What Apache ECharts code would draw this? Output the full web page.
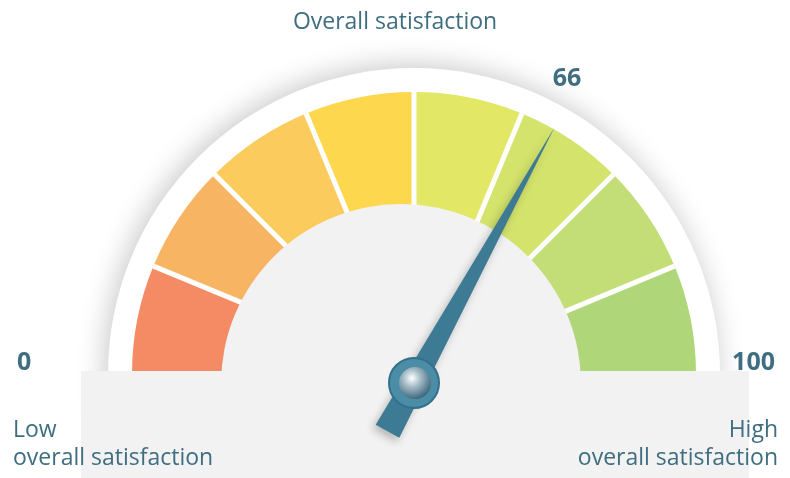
<!DOCTYPE html>
<html>
<head>
<meta charset="utf-8">
<script src="https://cdn.jsdelivr.net/npm/echarts@6/dist/echarts.min.js"></script>
<style>
  html, body { margin: 0; padding: 0; background: #ffffff; }
  #gauge { width: 790px; height: 478px; }
</style>
</head>
<body>
<div id="gauge"></div>
<script>
  // band colours, low -> high
  var bandColors = ['#F58B65', '#F7B463', '#FBCB5D', '#FDD84F', '#E3E766', '#D4E36C', '#C3DE76', '#B0D67A'];
  var scaleMin = 0;
  var scaleMax = 100;
  var score = 66;
  var tickLabels = ['0', '100'];
  var endLabels = ['Low\noverall satisfaction', 'High\noverall satisfaction'];
  var chartTitle = 'Overall satisfaction';

  var txt = '#3F6E80';
  var font = 'Open Sans';

  // axisLine colour stops built from the band list
  var stops = bandColors.map(function (c, i) {
    return [(i + 1) / bandColors.length, c];
  });

  var chart = echarts.init(document.getElementById('gauge'));
  chart.setOption({
    animation: false,
    title: [
      { text: chartTitle, left: 'center', top: 6, textStyle: { color: txt, fontFamily: font, fontSize: 23, fontWeight: 'normal' }, z: 8 },
      { text: tickLabels[0], left: 12, top: 345, textStyle: { color: txt, fontFamily: font, fontSize: 25, fontWeight: 'bold' }, z: 8 },
      { text: tickLabels[1], right: 10, top: 345, textStyle: { color: txt, fontFamily: font, fontSize: 25, fontWeight: 'bold' }, z: 8 }
    ],
    graphic: [
      // white outer disc with soft shadow
      { type: 'circle', z: 0, shape: { cx: 414, cy: 374, r: 306 },
        style: { fill: '#ffffff', shadowBlur: 28, shadowColor: 'rgba(0,0,0,0.22)', shadowOffsetX: -3, shadowOffsetY: -3 } },
      // inner grey face (slightly off centre, like the original)
      { type: 'circle', z: 3, shape: { cx: 401, cy: 384, r: 180 }, style: { fill: '#F2F2F2' } },
      // grey base panel
      { type: 'rect', z: 3, shape: { x: 81, y: 371, width: 668, height: 120 }, style: { fill: '#F2F2F2' } },
      // silver ball on the hub
      { type: 'circle', z: 10, shape: { cx: 415, cy: 383, r: 16 },
        style: { fill: new echarts.graphic.RadialGradient(0.4, 0.35, 0.75, [
          { offset: 0, color: '#ffffff' },
          { offset: 0.35, color: '#A9BEC9' },
          { offset: 0.8, color: '#4E7588' },
          { offset: 1, color: '#2C4F60' }
        ]) } },
      // end captions
      { type: 'text', z: 8, x: 13, y: 416,
        style: { text: endLabels[0], align: 'left', fill: txt, font: '23px "Open Sans"', lineHeight: 28 } },
      { type: 'text', z: 8, x: 778, y: 416,
        style: { text: endLabels[1], align: 'right', fill: txt, font: '23px "Open Sans"', lineHeight: 28 } }
    ],
    series: [
      {
        // coloured bands
        type: 'gauge',
        z: 2,
        center: [414, 374],
        radius: 282,
        startAngle: 180,
        endAngle: 0,
        min: scaleMin,
        max: scaleMax,
        splitNumber: bandColors.length,
        axisLine: { show: true, roundCap: false, lineStyle: { width: 130, color: stops } },
        splitLine: { show: true, length: 130, distance: -130, lineStyle: { color: '#ffffff', width: 5 } },
        axisTick: { show: false },
        axisLabel: { show: false },
        pointer: { show: false },
        anchor: { show: false },
        title: { show: false },
        detail: { show: false },
        data: [{ value: score }]
      },
      {
        // needle + value
        type: 'gauge',
        z: 6,
        center: [414, 383],
        radius: 292,
        startAngle: 180,
        endAngle: 0,
        min: scaleMin,
        max: scaleMax,
        axisLine: { show: false },
        splitLine: { show: false },
        axisTick: { show: false },
        axisLabel: { show: false },
        pointer: {
          show: true,
          icon: 'path://M50,0 L100,1000 L0,1000 Z',
          length: 347,
          width: 27,
          offsetCenter: [0, 55],
          itemStyle: { color: '#3D7B94', shadowBlur: 8, shadowColor: 'rgba(0,0,0,0.25)', shadowOffsetX: -3, shadowOffsetY: 4 }
        },
        anchor: {
          show: true,
          showAbove: true,
          icon: 'circle',
          size: 50,
          itemStyle: { color: '#4B8CA6', borderColor: '#34708A', borderWidth: 2 }
        },
        title: { show: false },
        detail: {
          show: true,
          offsetCenter: [153, -304],
          formatter: '{value}',
          color: txt,
          fontFamily: font,
          fontSize: 25,
          fontWeight: 'bold'
        },
        data: [{ value: score }]
      }
    ]
  });
</script>
</body>
</html>
